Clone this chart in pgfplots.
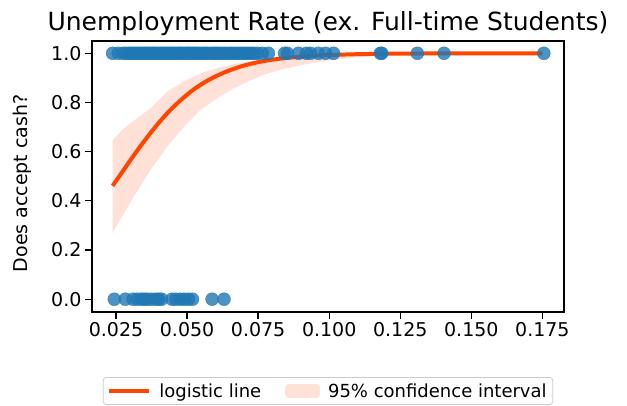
\documentclass[border=0pt]{standalone}
\usepackage{fontspec}
\setmainfont{DejaVu Sans}
\usepackage{pgfplots}
\pgfplotsset{compat=1.18}
\definecolor{tabblue}{RGB}{31,119,180}
\definecolor{ored}{RGB}{255,69,0}
\definecolor{bandcol}{RGB}{255,225,215}
\begin{document}
\begin{tikzpicture}
\useasboundingbox (-92pt,-93pt) rectangle (535pt,312pt);
\begin{axis}[
  scale only axis, width=472pt, height=271pt,
  xmin=0.01655, xmax=0.1826, ymin=-0.052, ymax=1.05,
  xtick={0.025,0.05,0.075,0.1,0.125,0.15,0.175},
  xticklabels={0.025,0.050,0.075,0.100,0.125,0.150,0.175},
  ytick={0,0.2,0.4,0.6,0.8,1.0},
  yticklabels={0.0,0.2,0.4,0.6,0.8,1.0},
  /pgf/number format/assume math mode=true,
  tick label style={font=\fontsize{19}{22}\selectfont},
  tick align=outside, major tick length=7pt,
  every tick/.style={black, line width=1.3pt},
  axis line style={line width=1.3pt},
  xtick pos=bottom, ytick pos=left,
  title={Unemployment Rate (ex. Full-time Students)},
  every axis title/.style={at={(axis description cs:0.5,1)}, anchor=base, yshift=11pt, font=\fontsize{25}{28}\selectfont},
  ylabel={Does accept cash?},
  every axis y label/.style={at={(axis description cs:-0.1483,0.475)}, rotate=90, anchor=center, font=\fontsize{19}{22}\selectfont},
  legend columns=2,
  legend style={at={(axis description cs:0.5,0)}, anchor=north, yshift=-65pt, draw=black!20, line width=0.8pt, rounded corners=3pt, font=\fontsize{18}{21}\selectfont, inner xsep=4pt, inner ysep=4pt,
    /tikz/every even column/.append style={column sep=22pt},
    /tikz/every odd column/.append style={column sep=6pt}},
]
% scatter y=1
\addplot[only marks, mark=*, mark size=6.5pt, mark options={fill=tabblue, draw=tabblue, opacity=0.8}, forget plot] coordinates {
(0.0238,1)(0.0258,1)(0.0275,1)(0.0285,1)(0.0295,1)(0.0302,1)(0.031,1)(0.0318,1)(0.0325,1)(0.0333,1)
(0.034,1)(0.0348,1)(0.0355,1)(0.0362,1)(0.037,1)(0.0378,1)(0.0385,1)(0.0392,1)(0.04,1)(0.0408,1)
(0.0415,1)(0.0422,1)(0.043,1)(0.0438,1)(0.0445,1)(0.0452,1)(0.046,1)(0.0468,1)(0.0475,1)(0.0482,1)
(0.049,1)(0.0498,1)(0.0505,1)(0.0512,1)(0.052,1)(0.0528,1)(0.0535,1)(0.0545,1)(0.0555,1)(0.0562,1)
(0.057,1)(0.058,1)(0.059,1)(0.0598,1)(0.0605,1)(0.0615,1)(0.0625,1)(0.0635,1)(0.0645,1)(0.0655,1)
(0.0665,1)(0.0675,1)(0.0685,1)(0.0695,1)(0.0705,1)(0.0715,1)(0.0725,1)(0.0735,1)
(0.0747,1)(0.0765,1)(0.0786,1)(0.0843,1)(0.0853,1)(0.0892,1)(0.092,1)(0.0934,1)(0.0962,1)(0.0987,1)(0.1015,1)
(0.118,1)(0.1185,1)(0.131,1)(0.1404,1)(0.1755,1)
};
% scatter y=0
\addplot[only marks, mark=*, mark size=6.5pt, mark options={fill=tabblue, draw=tabblue, opacity=0.8}, forget plot] coordinates {
(0.0244,0)(0.0283,0)(0.031,0)(0.0325,0)(0.034,0)(0.035,0)(0.036,0)(0.0375,0)(0.039,0)(0.04,0)(0.041,0)
(0.0447,0)(0.046,0)(0.0476,0)(0.049,0)(0.0505,0)(0.0519,0)(0.0588,0)(0.063,0)
};
% confidence band
\addplot[fill=bandcol, draw=none, forget plot] coordinates {
(0.0238,0.647)(0.0277,0.695)(0.0371,0.776)(0.043,0.844)(0.0488,0.886)(0.0547,0.918)(0.0606,0.940)(0.0664,0.956)(0.073,0.969)(0.08,0.978)(0.09,0.989)(0.1,0.995)(0.12,0.999)(0.175,1.0)
(0.175,0.9998)(0.14,0.998)(0.12,0.992)(0.11,0.985)(0.1,0.972)(0.09,0.952)(0.084,0.936)(0.0782,0.918)(0.0723,0.89)(0.0664,0.858)(0.0606,0.817)(0.0547,0.77)(0.0488,0.70)(0.043,0.62)(0.0371,0.525)(0.0312,0.416)(0.0238,0.271)
} -- cycle;
% logistic line
\addplot[ored, line width=4pt, smooth, legend image code/.code={\draw[ored, line width=4pt] (0pt,0pt) -- (40pt,0pt);}] coordinates {
(0.0238,0.461)(0.028,0.531)(0.032,0.597)(0.036,0.659)(0.040,0.717)(0.044,0.768)(0.048,0.812)(0.052,0.850)(0.056,0.881)(0.060,0.906)(0.065,0.931)(0.070,0.950)(0.075,0.964)(0.080,0.974)(0.085,0.981)(0.090,0.986)(0.095,0.990)(0.100,0.993)(0.110,0.9964)(0.120,0.9981)(0.130,0.9990)(0.145,0.99965)(0.160,0.9999)(0.175,1.0)
};
\addlegendentry{logistic line}
\addlegendimage{legend image code/.code={\fill[bandcol] (0pt,-6.5pt) rectangle (34pt,6.5pt);}}
\addlegendentry{95\% confidence interval}
\end{axis}
\end{tikzpicture}
\end{document}
